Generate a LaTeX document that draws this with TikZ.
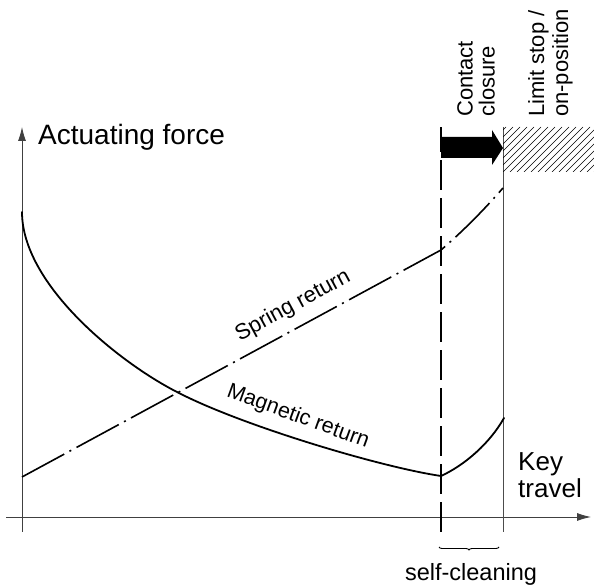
\documentclass[tikz,border=0pt]{standalone}
\usepackage{fontspec}
\setmainfont{Liberation Sans}
\usetikzlibrary{arrows.meta, decorations.pathreplacing}

\tikzset{
  axis/.style={line width=0.9pt, black!75, -{Latex[length=14pt,width=8pt]}},
  curve/.style={line width=1.8pt, line cap=round},
  springline/.style={line width=1.6pt, dash pattern=on 48pt off 6pt on 2pt off 6pt},
  marker/.style={line width=1.2pt, dash pattern=on 30pt off 8pt},
  lbl/.style={inner sep=0pt, font=\fontsize{22}{22}\selectfont}
}

\begin{document}
\begin{tikzpicture}[x=1pt, y=1pt]
\useasboundingbox (0,0) rectangle (594,585);

% Axes
\coordinate (ybot) at (22,53);
\coordinate (ytop) at (22,458);
\coordinate (xleft) at (6,68);
\coordinate (xright) at (591,68);
\draw[axis] (ybot) -- (ytop);
\draw[axis] (xleft) -- (xright);
\node[anchor=west, inner sep=0pt, font=\fontsize{28}{28}\selectfont] (force) at (38,448) {Actuating force};
\node[anchor=west, inner sep=0pt, align=left, font=\fontsize{26}{27}\selectfont] (travel) at (518,110) {Key\\travel};

% Contact closure and limit stop markers
\coordinate (cbot) at (441,53);
\coordinate (ctop) at (441,458);
\coordinate (lbot) at (503,53);
\coordinate (ltop) at (503,458);
\draw[marker] (cbot) -- (ctop);
\draw[line width=0.8pt, black!70] (lbot) -- (ltop);

% Thick arrow
\fill (441,427) -- (492,427) -- (492,420) -- (503,437) -- (492,455) -- (492,448) -- (441,448) -- cycle;

% Hatched stop
\begin{scope}
\clip (503,413) rectangle (594,458);
\foreach \hx in {454,461,...,600}
  \draw[line width=0.6pt] (\hx,413) -- (\hx+45,458);
\end{scope}

\node[lbl, rotate=90, anchor=south west, align=left] (contact) at (495,468) {Contact\\closure};
\node[lbl, rotate=90, anchor=south west, align=left, font=\fontsize{22}{24}\selectfont] (limit) at (573,468) {Limit stop /\\on-position};

% Spring return
\coordinate (s0) at (22,108);
\coordinate (s1) at (441,335);
\coordinate (s2) at (503,397);
\draw[springline] (s0) -- (s1) .. controls (462,353) and (483,374) .. (s2);
\node[lbl, rotate=28.5] (spring) at (293,279) {Spring return};

% Magnetic return
\coordinate (m0) at (22,373);
\coordinate (mx) at (177,193);
\coordinate (mmin) at (441,109);
\coordinate (m2) at (504,167);
\draw[curve] (m0) .. controls (22,300) and (120,222) .. (mx)
  .. controls (240,160) and (380,118) .. (mmin);
\draw[curve] (mmin) .. controls (465,120) and (490,142) .. (m2);
\node[lbl, rotate=-20, font=\fontsize{21.5}{22}\selectfont] (magnetic) at (298,168) {Magnetic return};

% Self-cleaning range
\coordinate (bl) at (439,38);
\coordinate (br) at (499,38);
\draw[line width=0.9pt, decorate, decoration={brace, amplitude=3pt}] (br) -- (bl);
\node[inner sep=0pt, font=\fontsize{23.5}{24}\selectfont] (clean) at (471,11) {self-cleaning};

\end{tikzpicture}
\end{document}
